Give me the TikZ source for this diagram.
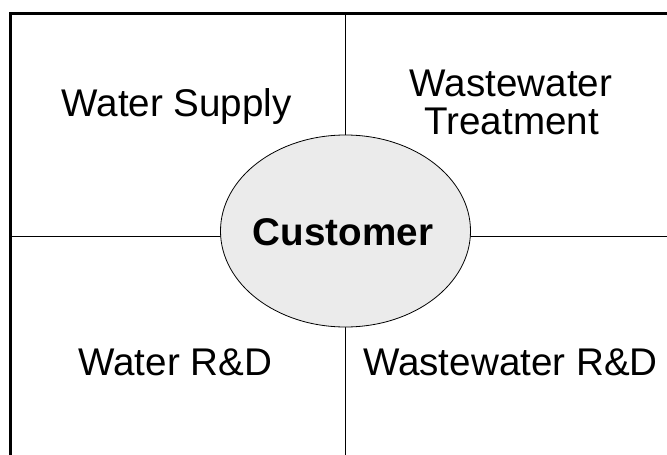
\documentclass[tikz,border=0pt]{standalone}
\usepackage{fontspec}
\setmainfont{Liberation Sans}
\usetikzlibrary{shapes.geometric}
\begin{document}
\begin{tikzpicture}[x=1pt,y=-1pt,
  label text/.style={font=\fontsize{38.6}{38.6}\selectfont, anchor=base, inner sep=0pt},
  divider/.style={line width=1pt, black},
  frame/.style={line width=3pt, black}]
  \useasboundingbox (0,0) rectangle (667,455);
  % quadrant dividers
  \coordinate (vtop) at (345,14);
  \coordinate (vbot) at (345,455);
  \coordinate (hleft) at (11,236);
  \coordinate (hright) at (667,236);
  \draw[divider] (vtop) -- (vbot);
  \draw[divider] (hleft) -- (hright);
  % outer frame (left and top edges)
  \coordinate (fbl) at (10.5,455);
  \coordinate (ftl) at (10.5,13.5);
  \coordinate (ftr) at (667,13.5);
  \draw[frame] (fbl) -- (ftl) -- (ftr);
  % centre ellipse
  \node[ellipse, draw=black, line width=0.8pt, fill=black!8,
        minimum width=250pt, minimum height=192pt, inner sep=0pt]
        (cust) at (345.5,231) {};
  \node[label text, font=\fontsize{38.6}{38.6}\selectfont\bfseries] (custtxt) at (343,245) {Customer};
  % quadrant labels
  \node[label text] (ws) at (176.7,116.7) {Water Supply};
  \node[label text] (wwt1) at (511,96.7) {Wastewater};
  \node[label text] (wwt2) at (511.7,134) {Treatment};
  \node[label text] (wrd) at (175.3,375) {Water R\&D};
  \node[label text] (wwrd) at (510.5,375) {Wastewater R\&D};
\end{tikzpicture}
\end{document}
